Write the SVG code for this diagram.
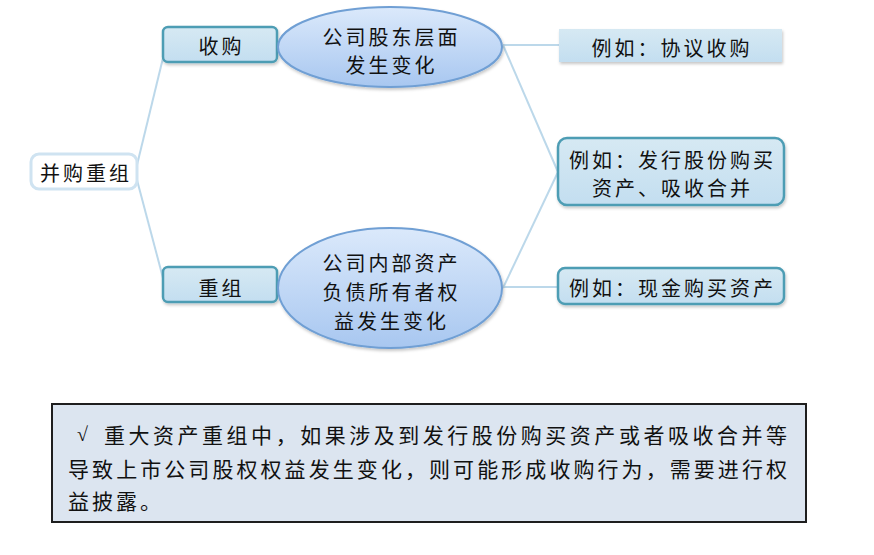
<svg xmlns="http://www.w3.org/2000/svg" width="874" height="555" viewBox="0 0 874 555">
<defs>
<linearGradient id="eg" x1="0" y1="0" x2="0" y2="1">
<stop offset="0" stop-color="#dbe9fb"/>
<stop offset="1" stop-color="#a8c7f0"/>
</linearGradient>
<linearGradient id="bg" x1="0" y1="0" x2="0" y2="1">
<stop offset="0" stop-color="#d6e9f3"/>
<stop offset="1" stop-color="#c3def0"/>
</linearGradient>
<filter id="sh" x="-10%" y="-20%" width="120%" height="150%">
<feDropShadow dx="1" dy="2" stdDeviation="1.5" flood-color="#000" flood-opacity="0.22"/>
</filter>
</defs>
<style>
text{font-family:"Noto Sans CJK SC","Noto Sans",sans-serif;font-size:20px;fill:#111;letter-spacing:3px;dominant-baseline:central}
.c{text-anchor:middle}
.box{fill:url(#bg);stroke:#4e9db4;stroke-width:2.5}
.ell{fill:url(#eg);stroke:#6f9fd4;stroke-width:2}
.conn{fill:none;stroke:#bcd8ea;stroke-width:2}
.note{font-size:21px}
.chk{font-family:"Liberation Serif","DejaVu Serif",serif;font-size:20px;letter-spacing:0}
</style>
<rect width="874" height="555" fill="#fff"/>
<g id="connectors">
<path class="conn" d="M137,165 L163,58"/>
<path class="conn" d="M137,180 L163,278"/>
<path class="conn" d="M503,45 L559,45"/>
<path class="conn" d="M503,45 L558,172"/>
<path class="conn" d="M503,288 L558,172"/>
<path class="conn" d="M503,287 L558,287"/>
</g>
<g id="root">
<rect x="31" y="154" width="106" height="35" rx="8" fill="#fff" stroke="#cfe3f1" stroke-width="3"/>
<text class="c" x="86" y="172">并购重组</text>
</g>
<g id="shougou">
<rect class="box" x="163" y="27" width="114" height="35" rx="5" filter="url(#sh)"/>
<text class="c" x="221.5" y="45">收购</text>
</g>
<g id="chongzu">
<rect class="box" x="163" y="267" width="114" height="35" rx="5" filter="url(#sh)"/>
<text class="c" x="221.5" y="287">重组</text>
</g>
<g id="ellipse1">
<ellipse class="ell" cx="390" cy="47" rx="112" ry="40" filter="url(#sh)"/>
<text class="c" x="391.5" y="36">公司股东层面</text>
<text class="c" x="391.5" y="64">发生变化</text>
</g>
<g id="ellipse2">
<ellipse class="ell" cx="390" cy="288" rx="112" ry="60" filter="url(#sh)"/>
<text class="c" x="391.5" y="262">公司内部资产</text>
<text class="c" x="391.5" y="291">负债所有者权</text>
<text class="c" x="391.5" y="320">益发生变化</text>
</g>
<g id="ex1">
<rect x="559" y="29" width="223" height="33" fill="url(#bg)" filter="url(#sh)"/>
<text class="c" x="672" y="47">例如：协议收购</text>
</g>
<g id="ex2">
<rect class="box" x="558" y="138" width="226" height="67" rx="9" filter="url(#sh)"/>
<text class="c" x="672.5" y="159">例如：发行股份购买</text>
<text class="c" x="672.5" y="187">资产、吸收合并</text>
</g>
<g id="ex3">
<rect class="box" x="558" y="268" width="226" height="36" rx="7" filter="url(#sh)"/>
<text class="c" x="672.5" y="287">例如：现金购买资产</text>
</g>
<g id="note">
<rect x="52" y="404" width="754" height="118" fill="#dce5f0" stroke="#1e1e1e" stroke-width="2"/>
<text class="chk" x="77" y="434">√</text>
<text class="note" x="104" y="434" textLength="686" lengthAdjust="spacing">重大资产重组中，如果涉及到发行股份购买资产或者吸收合并等</text>
<text class="note" x="68" y="468" textLength="722" lengthAdjust="spacing">导致上市公司股权权益发生变化，则可能形成收购行为，需要进行权</text>
<text class="note" x="68" y="500">益披露。</text>
</g>
</svg>
